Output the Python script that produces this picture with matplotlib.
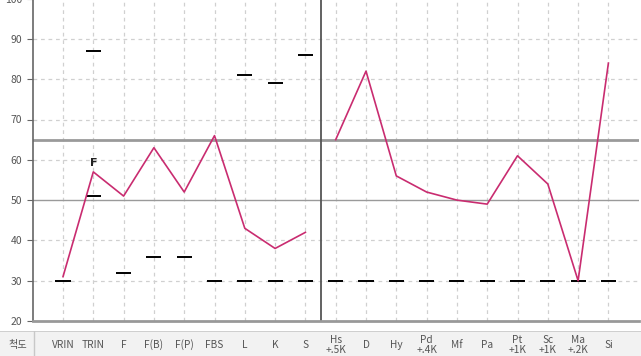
import matplotlib.pyplot as plt

plt.rcParams['font.family'] = ['Noto Sans CJK KR', 'DejaVu Sans']

# Scale names along the bottom (validity scales, then clinical scales)
scales = ['VRIN', 'TRIN', 'F', 'F(B)', 'F(P)', 'FBS', 'L', 'K', 'S',
          'Hs\n+.5K', 'D', 'Hy', 'Pd\n+.4K', 'Mf', 'Pa', 'Pt\n+1K', 'Sc\n+1K', 'Ma\n+.2K', 'Si']
validity_scores = [31, 57, 51, 63, 52, 66, 43, 38, 42]
clinical_scores = [65, 82, 56, 52, 50, 49, 61, 54, 30, 84]
# short black bars: lower and upper reference marks per scale
lower_marks = [30, 51, 32, 36, 36, 30, 30, 30, 30, 30, 30, 30, 30, 30, 30, 30, 30, 30, 30]
upper_marks = [None, 87, None, None, None, None, 81, 79, 86, None, None, None, None, None, None, None, None, None, None]
yticks = [20, 30, 40, 50, 60, 70, 80, 90, 100]

W, H = 641, 356
fig = plt.figure(figsize=(W / 100, H / 100), dpi=100)

# main plot area: y=20 at pixel row 321, y=100 just above the top edge
ax = fig.add_axes([32.7 / W, (H - 321) / H, 606 / W, 322.4 / H])
ax.set_xlim(0, 20)
ax.set_ylim(20, 100)

xs = list(range(1, len(scales) + 1))
nv = len(validity_scores)

# grid
for y in [30, 40, 60, 70, 80, 90, 100]:
    ax.axhline(y, color='#d0d0d0', lw=0.9, ls=(0, (3, 3)), zorder=0)
for x in xs:
    ax.axvline(x, color='#d0d0d0', lw=0.9, ls=(0, (3, 3)), zorder=0)
ax.axhline(50, color='#9a9a9a', lw=1.0, zorder=1)
ax.axhline(65, color='#9a9a9a', lw=2.0, zorder=1)
ax.axvline(nv + 0.5, color='#555555', lw=1.3, zorder=2)

# reference marks
for x, lo, hi in zip(xs, lower_marks, upper_marks):
    ax.hlines(lo, x - 0.25, x + 0.25, color='black', lw=1.4, zorder=3)
    if hi is not None:
        ax.hlines(hi, x - 0.25, x + 0.25, color='black', lw=1.4, zorder=3)

# profile lines
pink = '#c92c70'
ax.plot(xs[:nv], validity_scores, color=pink, lw=1.2, zorder=4)
ax.plot(xs[nv:], clinical_scores, color=pink, lw=1.2, zorder=4)
ax.text(xs[1], validity_scores[1] + 0.9, 'F', ha='center', va='bottom',
        fontsize=8, fontweight='bold', color='#222222', family=['DejaVu Sans'])

ax.set_yticks(yticks)
ax.set_yticklabels([str(t) for t in yticks])
ax.set_xticks([])
ax.tick_params(axis='y', colors='#666666', labelcolor='#555555', labelsize=7.5, length=4, width=0.8)
for s in ['top', 'right']:
    ax.spines[s].set_visible(False)
ax.spines['left'].set_color('#666666')
ax.spines['left'].set_linewidth(1.2)
ax.spines['bottom'].set_color('#999999')
ax.spines['bottom'].set_linewidth(2.0)

# label strip along the bottom
lab = fig.add_axes([0, 0, 1, 25 / H])
lab.set_xlim(0, W)
lab.set_ylim(0, 25)
lab.set_facecolor('#f2f2f2')
for s in lab.spines.values():
    s.set_visible(False)
lab.axhline(25, color='#c8c8c8', lw=1.2)
lab.axvline(34, color='#c8c8c8', lw=1.0)
lab.set_xticks([])
lab.set_yticks([])
lab.text(18, 11, '척도', ha='center', va='center', fontsize=7.3, color='#555555')
for x, name in zip(xs, scales):
    px = 32.7 + x * 606 / 20
    lab.text(px, 11, name, ha='center', va='center', fontsize=7.3, color='#555555',
             linespacing=0.95)

fig.savefig('out.png', dpi=100)
